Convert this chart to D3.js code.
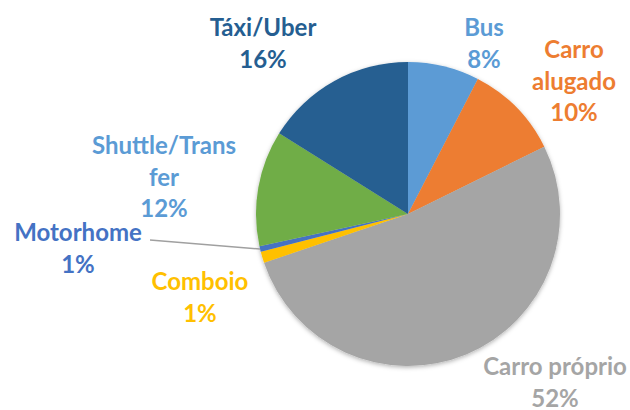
<!DOCTYPE html>
<html>
<head>
<meta charset="utf-8">
<script src="https://cdn.jsdelivr.net/npm/d3@7/dist/d3.min.js"></script>
<style>
  body { margin: 0; background: #fff; }
  svg { display: block; }
  text { font-family: Lato, "Open Sans", sans-serif; font-weight: 700; }
</style>
</head>
<body>
<div id="chart"></div>
<script>
// data (clockwise from 12 o'clock)
const categories = ['Bus', 'Carro alugado', 'Carro próprio', 'Comboio', 'Motorhome', 'Shuttle/Transfer', 'Táxi/Uber'];
const values = [7.6, 10.1, 52.1, 1.2, 0.6, 12.3, 16.1];
// label text lines as shown (the % line is computed)
const labelLines = [['Bus'], ['Carro', 'alugado'], ['Carro próprio'], ['Comboio'], ['Motorhome'], ['Shuttle/Trans', 'fer'], ['Táxi/Uber']];

// styles
const colors = ['#5b9bd5', '#ed7d31', '#a5a5a5', '#ffc000', '#4472c4', '#70ad47', '#255e91'];
const labelColors = ['#5b9bd5', '#ed7d31', '#a5a5a5', '#ffc000', '#4472c4', '#5b9bd5', '#255e91'];

const w = 630, h = 410;
const cx = 408, cy = 214, r = 152;
const lineH = 31.5;
const fontSize = 24;

// label block centres, relative to pie centre (Excel "best fit" placement)
const labelPos = [[76, -170], [166, -132], [147, 169], [-208, 84], [-330, 35], [-244, -36], [-145, -170]];
// leader line start for labels that have one (relative to pie centre)
const leaderStart = {4: [-258, 26]};

const svg = d3.select('#chart').append('svg')
  .attr('width', w)
  .attr('height', h);

const defs = svg.append('defs');
const shadow = defs.append('filter').attr('id', 'shadow')
  .attr('x', '-10%').attr('y', '-10%').attr('width', '120%').attr('height', '120%');
shadow.append('feDropShadow')
  .attr('dx', 0).attr('dy', 1.5)
  .attr('stdDeviation', 2)
  .attr('flood-color', '#000')
  .attr('flood-opacity', 0.3);

const total = d3.sum(values);
const rows = categories.map((c, i) => ({ name: c, value: values[i], i }));

const pie = d3.pie().sort(null).value(d => d.value);
const arc = d3.arc().innerRadius(0).outerRadius(r);
const edge = d3.arc().innerRadius(r).outerRadius(r);

const arcs = pie(rows);

const g = svg.append('g').attr('transform', `translate(${cx},${cy})`);

g.append('g').attr('filter', 'url(#shadow)')
  .selectAll('path')
  .data(arcs)
  .enter()
  .append('path')
  .attr('d', arc)
  .attr('fill', d => colors[d.data.i]);

// leader lines
g.selectAll('line.leader')
  .data(arcs.filter(d => leaderStart[d.data.i]))
  .enter()
  .append('line')
  .attr('class', 'leader')
  .attr('x1', d => leaderStart[d.data.i][0])
  .attr('y1', d => leaderStart[d.data.i][1])
  .attr('x2', d => edge.centroid(d)[0])
  .attr('y2', d => edge.centroid(d)[1])
  .attr('stroke', '#a0a0a0')
  .attr('stroke-width', 1.5);

// labels
const labels = g.selectAll('text.label')
  .data(arcs)
  .enter()
  .append('text')
  .attr('class', 'label')
  .attr('text-anchor', 'middle')
  .attr('font-size', fontSize)
  .attr('fill', d => labelColors[d.data.i]);

labels.each(function(d) {
  const lines = labelLines[d.data.i].concat([Math.round(d.data.value / total * 100) + '%']);
  const [px, py] = labelPos[d.data.i];
  const top = py - (lines.length * lineH) / 2;
  d3.select(this).selectAll('tspan')
    .data(lines)
    .enter()
    .append('tspan')
    .attr('x', px)
    .attr('y', (t, k) => top + (k + 1) * lineH - 8)
    .text(t => t);
});
</script>
</body>
</html>
